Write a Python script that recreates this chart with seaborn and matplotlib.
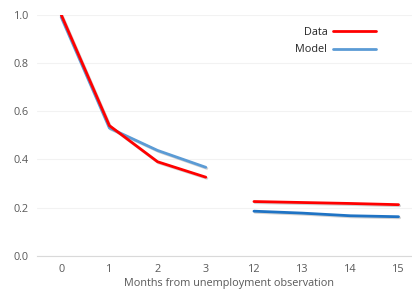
import matplotlib
matplotlib.use("Agg")
import matplotlib.pyplot as plt
import matplotlib.patheffects as pe
import seaborn as sns
import pandas as pd
import numpy as np

months = ["0", "1", "2", "3", "12", "13", "14", "15"]
data_early = [1.0, 0.54, 0.39, 0.326]
data_late = [0.225, 0.221, 0.217, 0.212]
model_early = [0.99, 0.53, 0.437, 0.367]
model_late = [0.185, 0.177, 0.166, 0.162]

sns.set_theme(style="white")
plt.rcParams['font.family'] = ['Open Sans', 'DejaVu Sans']

fig, ax = plt.subplots(figsize=(4.12, 2.94), dpi=100)
fig.subplots_adjust(left=0.09, right=1.02, top=0.95, bottom=0.13)

pos = np.arange(len(months))
df = pd.DataFrame({
    "x": list(pos[:4]) + list(pos[4:]) + list(pos[:4]) + list(pos[4:]),
    "y": data_early + data_late + model_early + model_late,
    "seg": ["d1"] * 4 + ["d2"] * 4 + ["m1"] * 4 + ["m2"] * 4,
})
colors = {"d1": "#FF0000", "d2": "#FF0000", "m1": "#5B9BD5", "m2": "#1F73C4"}
shadow = [pe.SimpleLineShadow(offset=(0.8, -0.8), shadow_color="gray", alpha=0.35), pe.Normal()]
order = ["m1", "m2", "d1", "d2"]
for seg in order:
    sub = df[df.seg == seg]
    sns.lineplot(data=sub, x="x", y="y", color=colors[seg], lw=2.0, ax=ax,
                 path_effects=shadow, zorder=3 if seg.startswith("d") else 2)

ax.set_xticks(pos)
ax.set_xticklabels(months)
ax.set_xlim(-0.5, 7.45)
ax.set_ylim(0, 1.0)
ax.set_yticks([0.0, 0.2, 0.4, 0.6, 0.8, 1.0])
ax.set_yticklabels(["0.0", "0.2", "0.4", "0.6", "0.8", "1.0"])
ax.tick_params(axis="both", labelsize=7.8, colors="#595959", length=0, pad=6)
ax.grid(axis="y", color="#F2F2F2", lw=0.8)
for s in ["top", "right", "left"]:
    ax.spines[s].set_visible(False)
ax.spines["bottom"].set_color("#D9D9D9")
ax.spines["bottom"].set_linewidth(0.8)
ax.set_xlabel("Months from unemployment observation", fontsize=7.8, color="#595959", labelpad=2)
ax.set_ylabel("")

from matplotlib.lines import Line2D
handles = [Line2D([], [], color="#FF0000", lw=2), Line2D([], [], color="#5B9BD5", lw=2)]
ax.legend(handles, ["Data", "Model"], loc="upper right", bbox_to_anchor=(0.91, 0.99),
          frameon=False, markerfirst=False, fontsize=7.8, handlelength=4.0, labelspacing=0.6,
          handletextpad=0.5)

fig.savefig("out.png", dpi=100)
